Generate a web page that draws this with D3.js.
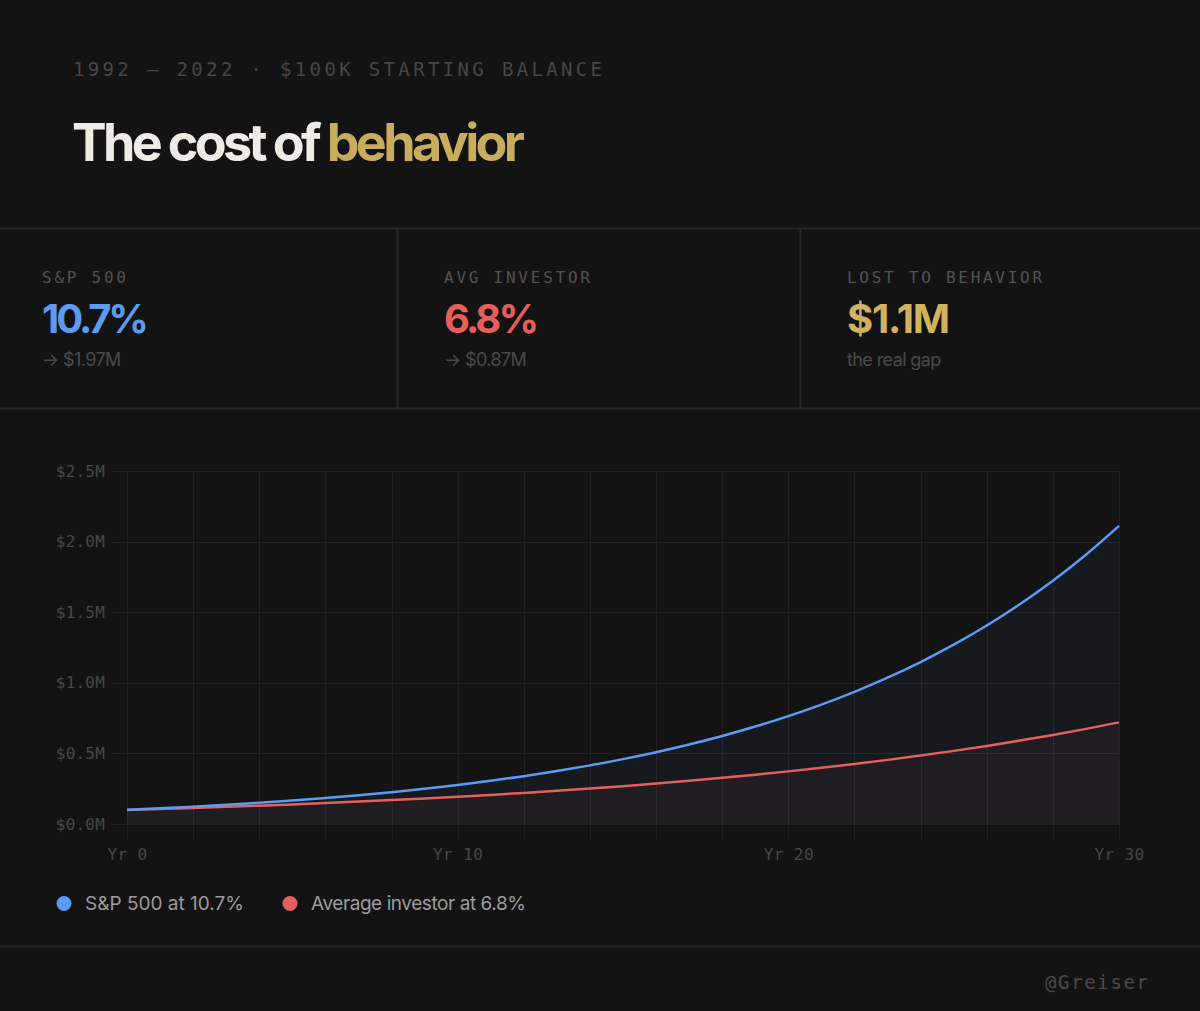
<!DOCTYPE html>
<html>
<head>
<meta charset="utf-8">
<script src="https://cdn.jsdelivr.net/npm/d3@7"></script>
<style>
  html, body { margin: 0; padding: 0; background: #131313; }
  svg { display: block; }
  .mono { font-family: "DejaVu Sans Mono", monospace; }
  .sans { font-family: Inter, "Noto Sans", sans-serif; }
</style>
</head>
<body>
<svg id="chart" width="1200" height="1011"></svg>
<script>
// data ($K)
const years = [0, 1, 2, 3, 4, 5, 6, 7, 8, 9, 10, 11, 12, 13, 14, 15, 16, 17, 18, 19, 20, 21, 22, 23, 24, 25, 26, 27, 28, 29, 30];
const sp500 = [100, 110.7, 122.5, 135.7, 150.2, 166.3, 184.1, 203.8, 225.6, 249.7, 276.4, 306.0, 338.8, 375.0, 415.1, 459.5, 508.7, 563.1, 623.4, 690.1, 763.9, 845.7, 936.2, 1036.3, 1147.2, 1270.0, 1405.9, 1556.3, 1722.8, 1907.2, 2111.2];
const investor = [100, 106.8, 114.1, 121.8, 130.1, 138.9, 148.4, 158.5, 169.2, 180.8, 193.0, 206.2, 220.2, 235.2, 251.2, 268.2, 286.5, 306.0, 326.8, 349.0, 372.7, 398.1, 425.2, 454.1, 484.9, 517.9, 553.1, 590.7, 630.9, 673.8, 719.6];

const yTicks = [0, 500, 1000, 1500, 2000, 2500];
const xLabelTicks = [0, 10, 20, 30];
const xGridTicks = [0, 2, 4, 6, 8, 10, 12, 14, 16, 18, 20, 22, 24, 26, 28, 30];

const statLabels = ["S&P 500", "AVG INVESTOR", "LOST TO BEHAVIOR"];
const statValues = ["10.7%", "6.8%", "$1.1M"];
const statSubs = ["\u2192 $1.97M", "\u2192 $0.87M", "the real gap"];

const legendLabels = ["S&P 500 at 10.7%", "Average investor at 6.8%"];

const subtitle = "1992 \u2014 2022 \u00b7 $100K STARTING BALANCE";
const handle = "@Greiser";

const BLUE = "#5b9bf3", RED = "#e5605a", GOLD = "#d2b25e";

const svg = d3.select("#chart");

// squeeze/stretch letter-spacing so a text spans a given width
function fit(sel, target) {
  const node = sel.node();
  const n = node.textContent.length;
  const w = node.getComputedTextLength();
  sel.attr("letter-spacing", ((target - w) / (n - 1)).toFixed(2));
  return sel;
}

// header
fit(svg.append("text")
  .attr("class", "mono")
  .attr("x", 73).attr("y", 76)
  .attr("font-size", 19)
  .attr("fill", "#464646")
  .text(subtitle), 529);

const title = svg.append("text")
  .attr("class", "sans")
  .attr("x", 72).attr("y", 161)
  .attr("font-size", 52)
  .attr("font-weight", 700);
title.append("tspan").attr("fill", "#efece5").text("The cost of ");
title.append("tspan").attr("fill", "#c8ad5e").text("behavior");
fit(title, 453);

// stat cards
const lineColor = "#282828";
svg.append("line").attr("x1", 0).attr("x2", 1200).attr("y1", 228.5).attr("y2", 228.5).attr("stroke", lineColor).attr("stroke-width", 2);
svg.append("line").attr("x1", 0).attr("x2", 1200).attr("y1", 408.5).attr("y2", 408.5).attr("stroke", lineColor).attr("stroke-width", 2);
[397.5, 800.5].forEach(x => {
  svg.append("line").attr("x1", x).attr("x2", x).attr("y1", 228).attr("y2", 408).attr("stroke", lineColor).attr("stroke-width", 2);
});

const cardX = [42, 444, 847];
const labelW = [84, 146, 195];
const valueW = [107, 95, 103];
const subW = [80, 84, 92];
const valueColors = [BLUE, RED, GOLD];

statLabels.forEach((t, i) => {
  fit(svg.append("text").attr("class", "mono")
    .attr("x", cardX[i]).attr("y", 283)
    .attr("font-size", 16).attr("fill", "#525252")
    .text(t), labelW[i]);
  fit(svg.append("text").attr("class", "sans")
    .attr("x", cardX[i]).attr("y", 333)
    .attr("font-size", 40).attr("font-weight", 700)
    .attr("fill", valueColors[i])
    .text(statValues[i]), valueW[i]);
  svg.append("text").attr("class", "sans")
    .attr("x", cardX[i]).attr("y", 366)
    .attr("font-size", 18).attr("fill", "#4a4a4a")
    .attr("letter-spacing", -0.6)
    .text(statSubs[i]);
});

// chart
const x = d3.scaleLinear().domain([0, 30]).range([127, 1119]);
const y = d3.scaleLinear().domain([0, 2500]).range([824, 471]);

const grid = svg.append("g").attr("stroke", "#212121").attr("stroke-width", 1);
grid.selectAll(".h")
  .data(yTicks)
  .join("line")
  .attr("x1", 112).attr("x2", x(30))
  .attr("y1", d => Math.round(y(d)) + 0.5)
  .attr("y2", d => Math.round(y(d)) + 0.5);
grid.selectAll(".v")
  .data(xGridTicks)
  .join("line")
  .attr("x1", d => Math.round(x(d)) + 0.5)
  .attr("x2", d => Math.round(x(d)) + 0.5)
  .attr("y1", y(2500)).attr("y2", y(0) + 15);

const series = years.map((yr, i) => ({ yr, sp: sp500[i], inv: investor[i] }));

const areaSp = d3.area().x(d => x(d.yr)).y0(y(0)).y1(d => y(d.sp)).curve(d3.curveMonotoneX);
const areaInv = d3.area().x(d => x(d.yr)).y0(y(0)).y1(d => y(d.inv)).curve(d3.curveMonotoneX);
const lineSp = d3.line().x(d => x(d.yr)).y(d => y(d.sp)).curve(d3.curveMonotoneX);
const lineInv = d3.line().x(d => x(d.yr)).y(d => y(d.inv)).curve(d3.curveMonotoneX);

svg.append("path").datum(series).attr("d", areaSp).attr("fill", BLUE).attr("fill-opacity", 0.06);
svg.append("path").datum(series).attr("d", areaInv).attr("fill", RED).attr("fill-opacity", 0.05);
svg.append("path").datum(series).attr("d", lineInv).attr("fill", "none").attr("stroke", RED).attr("stroke-width", 2.5);
svg.append("path").datum(series).attr("d", lineSp).attr("fill", "none").attr("stroke", BLUE).attr("stroke-width", 2.5);

// axes (labels only)
const yAxis = svg.append("g")
  .attr("transform", `translate(${x(0)},0)`)
  .call(d3.axisLeft(y).tickValues(yTicks).tickSize(0).tickPadding(22)
    .tickFormat(d => "$" + (d / 1000).toFixed(1) + "M"));
yAxis.select(".domain").remove();
yAxis.selectAll("text")
  .attr("class", "mono")
  .attr("font-size", 16)
  .attr("letter-spacing", 0.2)
  .attr("fill", "#474747");

const xAxis = svg.append("g")
  .attr("transform", `translate(0,${y(0)})`)
  .call(d3.axisBottom(x).tickValues(xLabelTicks).tickSize(0).tickPadding(25)
    .tickFormat(d => "Yr " + d));
xAxis.select(".domain").remove();
xAxis.selectAll("text")
  .attr("class", "mono")
  .attr("font-size", 16)
  .attr("letter-spacing", 0.4)
  .attr("fill", "#474747");

// legend
const legendX = [64, 290];
const legendW = [159, 215];
[BLUE, RED].forEach((c, i) => {
  svg.append("circle").attr("cx", legendX[i]).attr("cy", 903.5).attr("r", 7.5).attr("fill", c);
  fit(svg.append("text").attr("class", "sans")
    .attr("x", legendX[i] + 21).attr("y", 910)
    .attr("font-size", 19).attr("fill", "#9b9b9b")
    .text(legendLabels[i]), legendW[i]);
});

// footer
svg.append("line").attr("x1", 0).attr("x2", 1200).attr("y1", 946.5).attr("y2", 946.5).attr("stroke", lineColor).attr("stroke-width", 2);
fit(svg.append("text").attr("class", "mono")
  .attr("x", 1045).attr("y", 989)
  .attr("font-size", 19).attr("fill", "#4a4a4a")
  .text(handle), 103);
</script>
</body>
</html>
